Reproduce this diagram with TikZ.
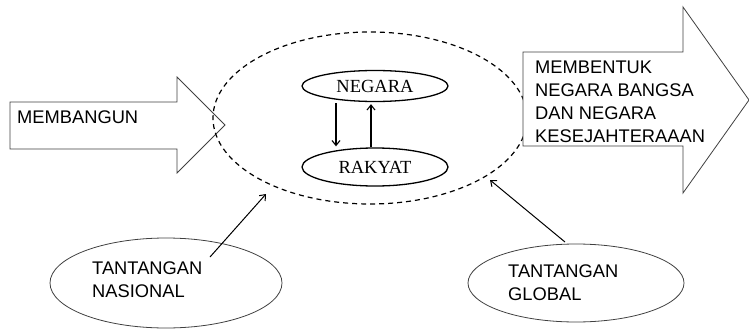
\documentclass[tikz,border=0pt]{standalone}
\usepackage{fontspec}
\setmainfont{Liberation Sans}
\newfontfamily\serifrm{Liberation Serif}
\usetikzlibrary{shapes.geometric,arrows.meta}
\begin{document}
\begin{tikzpicture}[x=1pt,y=-1pt,
  bigarrow/.style={draw=black!75, line width=0.8pt, fill=white},
  oval/.style={ellipse, draw, line width=1.3pt, inner sep=0pt, font=\serifrm\fontsize{18.5}{20}\selectfont},
  chal/.style={ellipse, draw=black!75, line width=0.8pt, inner sep=0pt},
  lbl/.style={font=\fontsize{18.3}{23}\selectfont, inner sep=0pt, align=left},
  link/.style={-{Straight Barb[length=5pt,width=8pt]}, line width=1.1pt}]
\useasboundingbox (0,0) rectangle (749,329);

% left big arrow
\draw[bigarrow] (10,102) -- (177,102) -- (177,77) -- (225,125) -- (177,173) -- (177,149) -- (10,149) -- cycle;
\node[lbl, anchor=base west] (bangun) at (17,123) {MEMBANGUN};

% dashed ellipse
\node[ellipse, draw, dash pattern=on 5pt off 4pt, line width=1.2pt,
      minimum width=314pt, minimum height=172pt] (big) at (370,118) {};

% right big arrow
\draw[bigarrow] (523,52) -- (683,52) -- (683,7) -- (749,100) -- (683,193) -- (683,146) -- (523,146) -- cycle;
\node[lbl, anchor=north west] (bentuk) at (535,61)
  {MEMBENTUK\\NEGARA BANGSA\\DAN NEGARA\\KESEJAHTERAAAN};

% inner ovals
\node[oval, minimum width=146pt, minimum height=31pt] (neg) at (375,86) {NEGARA};
\node[oval, minimum width=146pt, minimum height=38pt] (rak) at (375,167) {RAKYAT};
\draw[link] ([xshift=-39pt,yshift=-1pt]neg.south) -- ([xshift=-39pt,yshift=1pt]rak.north);
\draw[link] ([xshift=-4pt]rak.north) -- ([xshift=-4pt,yshift=-2pt]neg.south);

% challenges
\node[chal, minimum width=232pt, minimum height=90pt] (nas) at (166,283) {};
\node[lbl, anchor=north west] (nastxt) at (92,261.5) {TANTANGAN\\NASIONAL};
\node[chal, minimum width=216pt, minimum height=78pt] (glob) at (576,283) {};
\node[lbl, anchor=north west] (globtxt) at (508,264.5) {TANTANGAN\\GLOBAL};

\coordinate (nasS) at (210,257);
\coordinate (nasE) at (266,194);
\coordinate (globS) at (565,242);
\coordinate (globE) at (490,180);
\draw[link, line width=1pt] (nasS) -- (nasE);
\draw[link, line width=1pt] (globS) -- (globE);
\end{tikzpicture}
\end{document}
